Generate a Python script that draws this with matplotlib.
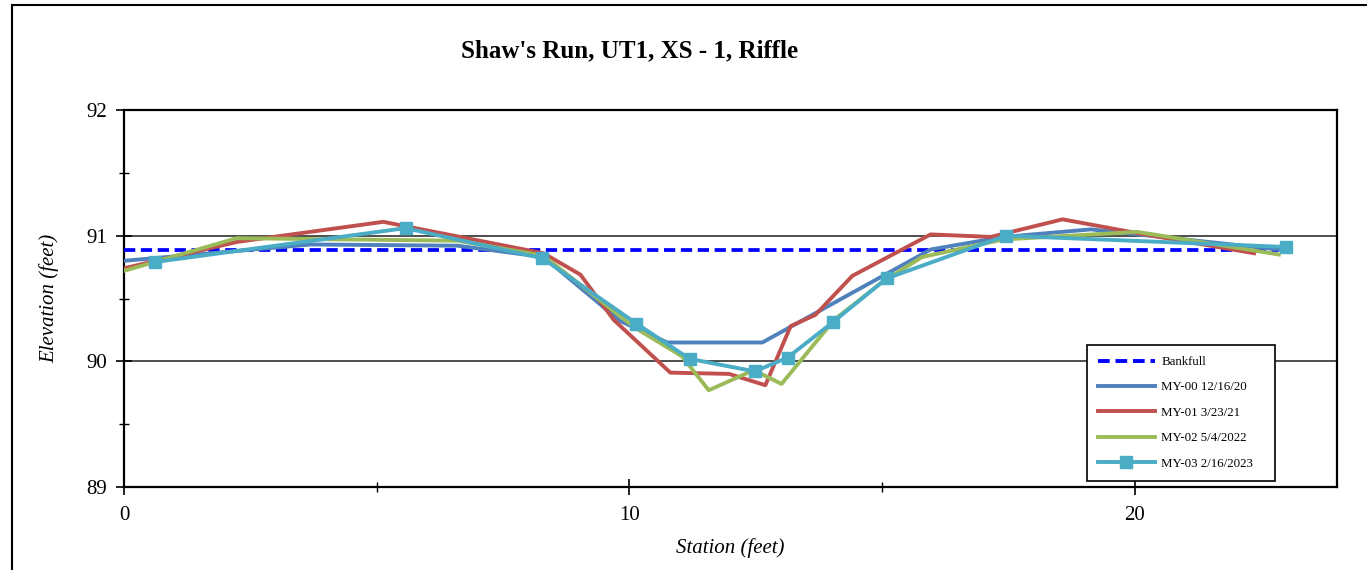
import matplotlib
matplotlib.use("Agg")
import matplotlib.pyplot as plt
from matplotlib.lines import Line2D
from matplotlib.ticker import MultipleLocator

plt.rcParams['font.family'] = ['Liberation Serif', 'DejaVu Serif']

title = "Shaw's Run, UT1, XS - 1, Riffle"
xlabel = "Station (feet)"
ylabel = "Elevation (feet)"

bankfull_x = [0.0, 22.85]
bankfull_y = [90.886, 90.886]

my00_x = [0.0, 3.7, 6.6, 8.3, 9.82, 10.75, 12.63, 15.96, 17.4, 19.13, 22.85]
my00_y = [90.80, 90.93, 90.92, 90.83, 90.32, 90.15, 90.15, 90.89, 90.99, 91.05, 90.89]

my01_x = [0.0, 2.23, 5.13, 8.3, 9.03, 9.69, 10.81, 11.97, 12.69, 13.19, 13.68, 14.41,
          15.96, 17.15, 18.57, 20.05, 22.36]
my01_y = [90.74, 90.95, 91.11, 90.86, 90.69, 90.33, 89.91, 89.90, 89.81, 90.28, 90.37, 90.68,
          91.01, 90.99, 91.13, 91.02, 90.86]

my02_x = [0.0, 2.23, 6.6, 8.3, 10.1, 11.04, 11.57, 12.46, 13.01, 14.05, 15.0, 15.79,
          17.4, 20.05, 22.85]
my02_y = [90.72, 90.98, 90.96, 90.84, 90.27, 90.04, 89.77, 89.93, 89.82, 90.33, 90.63, 90.83,
          90.97, 91.03, 90.85]

my03_x = [0.61, 5.57, 8.28, 10.14, 11.19, 12.48, 13.13, 14.02, 15.09, 17.45, 22.99]
my03_y = [90.79, 91.06, 90.82, 90.30, 90.02, 89.92, 90.03, 90.31, 90.66, 91.00, 90.91]

labels = ["Bankfull", "MY-00 12/16/20", "MY-01 3/23/21", "MY-02 5/4/2022", "MY-03 2/16/2023"]
colors = ["#0000FF", "#4F81BD", "#C0504D", "#9BBB59", "#4BACC6"]

W, H = 1367, 570
fig = plt.figure(figsize=(W / 100, H / 100), dpi=100)
ax = fig.add_axes([124 / W, 1 - 487 / H, (1337 - 124) / W, (487 - 110) / H])

ax.plot(bankfull_x, bankfull_y, color=colors[0], lw=2.7, ls=(0, (3.0, 1.5)), label=labels[0], zorder=3)
ax.plot(my00_x, my00_y, color=colors[1], lw=2.8, label=labels[1], zorder=4)
ax.plot(my01_x, my01_y, color=colors[2], lw=2.8, label=labels[2], zorder=5)
ax.plot(my02_x, my02_y, color=colors[3], lw=2.8, label=labels[3], zorder=6)
ax.plot(my03_x, my03_y, color=colors[4], lw=2.8, marker='s', markersize=8.5,
        label=labels[4], zorder=7)

ax.set_xlim(0, 24)
ax.set_ylim(89, 92)
ax.xaxis.set_major_locator(MultipleLocator(10))
ax.xaxis.set_minor_locator(MultipleLocator(5))
ax.yaxis.set_major_locator(MultipleLocator(1))
ax.yaxis.set_minor_locator(MultipleLocator(0.5))
ax.tick_params(axis='both', which='major', direction='inout', length=12, width=1.2,
               labelsize=15, pad=6)
ax.tick_params(axis='both', which='minor', direction='inout', length=7, width=1.0)
ax.tick_params(axis='x', which='major', pad=8)
ax.grid(True, axis='y', which='major', color='#404040', lw=1.3)
ax.set_axisbelow(True)
for s in ax.spines.values():
    s.set_linewidth(1.6)
    s.set_color('black')

ax.set_xlabel(xlabel, fontsize=15, style='italic', labelpad=9)
ax.set_ylabel(ylabel, fontsize=15, style='italic', labelpad=20)

fig.text(630 / W, 1 - 51 / H, title, fontsize=18, fontweight='bold', ha='center', va='center')

ax_w = 1337 - 124
ax_h = 487 - 110
leg = ax.legend(loc='upper left',
                bbox_to_anchor=((1087 - 124) / ax_w, (487 - 480) / ax_h,
                                (1275 - 1087) / ax_w, (480 - 345) / ax_h),
                mode='expand', fontsize=9.3,
                frameon=True, fancybox=False, edgecolor='black', framealpha=1,
                handlelength=4.4, labelspacing=1.04, borderpad=0.85, handletextpad=0.5,
                borderaxespad=0)
leg.get_frame().set_linewidth(1.2)
for h in leg.get_lines():
    h.set_linewidth(2.8)
leg.set_zorder(10)

# outer chart border (left and top)
fig.add_artist(Line2D([12 / W, 12 / W], [0, 1 - 5 / H], transform=fig.transFigure,
                      color='black', lw=1.5))
fig.add_artist(Line2D([12 / W, 1], [1 - 5 / H, 1 - 5 / H], transform=fig.transFigure,
                      color='black', lw=1.5))

fig.savefig("out.png", dpi=100)
